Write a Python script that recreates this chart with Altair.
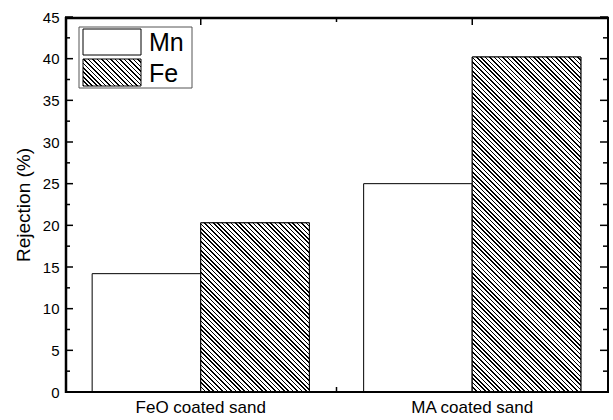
import altair as alt
import pandas as pd

# ---- data ----
categories = ["FeO coated sand", "MA coated sand"]
series = ["Mn", "Fe"]
mn_values = [14.2, 25.0]
fe_values = [20.3, 40.2]
y_major = [0, 5, 10, 15, 20, 25, 30, 35, 40, 45]
y_minor = [2.5, 7.5, 12.5, 17.5, 22.5, 27.5, 32.5, 37.5, 42.5]
x_major = [0.5, 1.5]   # top ticks at category centres
x_minor = [1.0]        # tick between the two categories

W, H = 543, 375
Y_MAX = 45
FONT = "Liberation Sans"

rows = []
for i, c in enumerate(categories):
    rows.append({"category": c, "series": "Mn", "value": mn_values[i]})
    rows.append({"category": c, "series": "Fe", "value": fe_values[i]})
df = pd.DataFrame(rows)


def hatch(w, h, period=4.4, frac=0.36):
    """diagonal '\\' hatch as a hard-stop linear gradient for a w x h box"""
    t = (w + h) / (w * w + h * h)
    n = max(1, int(round((w + h) / period)))
    stops = []
    for k in range(n):
        a = round(k / n, 5)
        b = round((k + frac) / n, 5)
        stops += [
            {"offset": a, "color": "white"},
            {"offset": a, "color": "black"},
            {"offset": b, "color": "black"},
            {"offset": b, "color": "white"},
        ]
    return {"gradient": "linear", "x1": 0, "y1": 1,
            "x2": round(w * t, 5), "y2": round(1 - h * t, 5), "stops": stops}


bar_w = W * 0.8 / 2 / 2

x_enc = alt.X("category:N", sort=categories,
              scale=alt.Scale(domain=categories, paddingInner=0.2, paddingOuter=0.1),
              axis=alt.Axis(title=None, labelAngle=0, labelFontSize=17, labelPadding=7,
                            ticks=False, domain=False,
                            labelColor="black", labelFont=FONT))
xo_enc = alt.XOffset("series:N", sort=series, scale=alt.Scale(domain=series))
y_scale = alt.Scale(domain=[0, Y_MAX], nice=False, zero=True)
y_enc = alt.Y("value:Q", scale=y_scale,
              axis=alt.Axis(title="Rejection (%)", values=y_major, ticks=False,
                            domain=False,
                            grid=False, labelFontSize=15, labelPadding=6, labelColor="black",
                            labelFont=FONT, titleFont=FONT, titleFontSize=19,
                            titleFontWeight="normal", titleColor="black", titlePadding=9))

main = alt.Chart(df).mark_bar(stroke="black", strokeWidth=1, fill="white").encode(
    x=x_enc, xOffset=xo_enc, y=y_enc,
)

hatched = []
for i, c in enumerate(categories):
    hatched.append(
        alt.Chart(df).transform_filter(
            (alt.datum.category == c) & (alt.datum.series == "Fe")
        ).mark_bar(fill=hatch(bar_w, fe_values[i] / Y_MAX * H), stroke="black", strokeWidth=1)
        .encode(x=x_enc, xOffset=xo_enc, y=y_enc)
    )

ymaj = pd.DataFrame({"value": y_major})
ymin = pd.DataFrame({"value": y_minor})
ticks_y = [
    alt.Chart(ymaj).mark_rule(color="black", strokeWidth=1.5).encode(y=y_enc, x=alt.value(0), x2=alt.value(8)),
    alt.Chart(ymin).mark_rule(color="black", strokeWidth=1.5).encode(y=y_enc, x=alt.value(0), x2=alt.value(5)),
    alt.Chart(ymaj).mark_rule(color="black", strokeWidth=1.5).encode(y=y_enc, x=alt.value(W - 8), x2=alt.value(W)),
    alt.Chart(ymin).mark_rule(color="black", strokeWidth=1.5).encode(y=y_enc, x=alt.value(W - 5), x2=alt.value(W)),
]

# ---- legend (drawn as marks) ----
leg_df = pd.DataFrame({"series": series})
LX0, LX1, LY0, LY1 = 14, 127, 10, 71
SW_X0, SW_X1 = 18, 76
rows_y = [(12, 38), (42, 69)]
legend_layers = [
    alt.Chart(leg_df).transform_filter(alt.datum.series == series[0]).mark_rect(
        fill="white", stroke="#555", strokeWidth=1).encode(
        x=alt.value(LX0), x2=alt.value(LX1), y=alt.value(LY0), y2=alt.value(LY1)),
]
swatch_fill = ["white", hatch(SW_X1 - SW_X0, rows_y[1][1] - rows_y[1][0])]
for k, s in enumerate(series):
    sub = alt.Chart(leg_df).transform_filter(alt.datum.series == s)
    legend_layers.append(
        sub.mark_rect(fill=swatch_fill[k], stroke="black", strokeWidth=1).encode(
            x=alt.value(SW_X0), x2=alt.value(SW_X1),
            y=alt.value(rows_y[k][0]), y2=alt.value(rows_y[k][1])))
    legend_layers.append(
        sub.mark_text(align="left", baseline="middle", fontSize=25, font=FONT, color="black").encode(
            text="series:N", x=alt.value(84), y=alt.value((rows_y[k][0] + rows_y[k][1]) / 2 + 1)))

bars = alt.layer(main, *hatched, *ticks_y, *legend_layers)

xq = alt.Scale(domain=[0, 2], nice=False, zero=False)
xt = alt.X("pos:Q", scale=xq, axis=None)
xmaj = pd.DataFrame({"pos": x_major})
xmin = pd.DataFrame({"pos": x_minor})
ticks_x = alt.layer(
    alt.Chart(xmaj).mark_rule(color="black", strokeWidth=1.5).encode(
        x=xt, y=alt.value(0), y2=alt.value(8)),
    alt.Chart(xmin).mark_rule(color="black", strokeWidth=1.5).encode(
        x=xt, y=alt.value(0), y2=alt.value(5)),
    alt.Chart(xmin).mark_rule(color="black", strokeWidth=1.5).encode(
        x=xt, y=alt.value(H - 5), y2=alt.value(H)),
)

# ---- plot frame, drawn last ----
one = pd.DataFrame({"series": [series[0]]})
frame = alt.layer(
    alt.Chart(one).mark_rule(color="black", strokeWidth=2.5).encode(
        x=alt.value(1), y=alt.value(0), y2=alt.value(H + 1)),
    alt.Chart(one).mark_rule(color="black", strokeWidth=2.5).encode(
        y=alt.value(1), x=alt.value(0), x2=alt.value(W + 1)),
    alt.Chart(one).mark_rule(color="black", strokeWidth=2).encode(
        x=alt.value(W), y=alt.value(0), y2=alt.value(H + 1)),
    alt.Chart(one).mark_rule(color="black", strokeWidth=2).encode(
        y=alt.value(H), x=alt.value(0), x2=alt.value(W + 1)),
)

chart = alt.layer(bars, ticks_x, frame).resolve_scale(x="independent").properties(
    width=W, height=H,
    autosize=alt.AutoSizeParams(type="none"),
    padding={"left": 65, "top": 17, "right": 5, "bottom": 28},
).configure_view(stroke=None).configure(background="white")

chart.save("out.html", embed_options={"renderer": "svg", "actions": False})
